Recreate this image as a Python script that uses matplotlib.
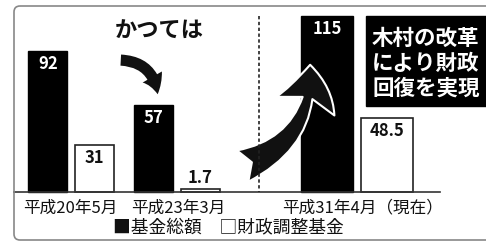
import matplotlib
matplotlib.use("Agg")
import matplotlib.pyplot as plt
from matplotlib.patches import FancyBboxPatch, FancyArrowPatch, Rectangle

plt.rcParams['font.family'] = ['Noto Sans CJK JP', 'DejaVu Sans']

# ---- data ----
categories = ["平成20年5月", "平成23年3月", "平成31年4月（現在）"]
fund_total = [92, 57, 115]          # 基金総額
fiscal_adj = [31, 1.7, 48.5]        # 財政調整基金
value_text_total = ["92", "57", "115"]
value_text_adj = ["31", "1.7", "48.5"]
legend_total = "基金総額"
legend_adj = "財政調整基金"
headline = "かつては"
box_lines = ["木村の改革", "により財政", "回復を実現"]

W, H = 486, 244
fig = plt.figure(figsize=(W / 100, H / 100), dpi=100)

# layout (pixel units)
base_y = 192
top_y = 16
group_centers = [71, 177, 357]
bar_widths = [39, 39, 52]
gap = 7.5

ax = fig.add_axes([0, (H - base_y) / H, 1, (base_y - top_y) / H])
ax.set_xlim(0, W)
ax.set_ylim(0, max(fund_total))
ax.axis('off')

for i, gc in enumerate(group_centers):
    w = bar_widths[i]
    off = w / 2 + gap / 2
    xb = gc - off
    xw = gc + off
    ax.bar(xb, fund_total[i], width=w, color='black', edgecolor='black', lw=1, clip_on=False)
    ax.bar(xw, fiscal_adj[i], width=w, color='white', edgecolor='#222222', lw=1.2, clip_on=False)
    ax.annotate(value_text_total[i], (xb, fund_total[i]), xytext=(0, -3), textcoords='offset points',
                ha='center', va='top', color='white', fontsize=12, fontweight='bold')
    if fiscal_adj[i] > 10:
        ax.annotate(value_text_adj[i], (xw, fiscal_adj[i]), xytext=(0, -3), textcoords='offset points',
                    ha='center', va='top', color='#111111', fontsize=12, fontweight='bold')
    else:
        ax.annotate(value_text_adj[i], (xw, fiscal_adj[i]), xytext=(0, 2), textcoords='offset points',
                    ha='center', va='bottom', color='#111111', fontsize=12, fontweight='bold')

# baseline
ax.plot([14, 440], [0, 0], color='#333333', lw=1.2, clip_on=False)

# overlay axes in pixel coords
ov = fig.add_axes([0, 0, 1, 1])
ov.set_xlim(0, W)
ov.set_ylim(H, 0)
ov.axis('off')
ov.patch.set_alpha(0)

# rounded border
ov.add_patch(FancyBboxPatch((14, 6), 490, 234, boxstyle="round,pad=0,rounding_size=6",
                            fill=False, ec='#888888', lw=1.2, clip_on=False))

# dashed divider
ov.plot([259, 259], [16, 192], color='#222222', lw=1.2, ls=(0, (2, 1.5)))

# category labels
lab_x = [70, 178, 363]
for x, t in zip(lab_x, categories):
    ov.text(x, 208, t, ha='center', va='center', fontsize=12, color='#111111')

# legend
ov.text(113, 228, "■" + legend_total + "　□" + legend_adj, ha='left', va='center',
        fontsize=12.8, color='#111111')

# headline
ov.text(159, 31, headline, ha='center', va='center', fontsize=16, fontweight='bold', color='#111111')

# small curved arrow (down)
ov.add_patch(FancyArrowPatch((118, 60), (158, 97), connectionstyle="arc3,rad=-0.45",
                             arrowstyle="simple,head_width=16,head_length=13,tail_width=8",
                             color='#111111', lw=0, mutation_scale=1))

# big curved arrow (up)
ov.add_patch(FancyArrowPatch((240, 167), (310, 62), connectionstyle="arc3,rad=0.38",
                             arrowstyle="fancy,head_width=44,head_length=30,tail_width=24",
                             fc='#111111', ec='white', lw=1.5, mutation_scale=1))

# black callout box
ov.add_patch(Rectangle((366, 16), 130, 90, color='black', clip_on=False))
for j, line in enumerate(box_lines):
    ov.text(372, 38 + j * 25, line, ha='left', va='center', fontsize=15.5, fontweight='bold', color='white')

fig.savefig("out.png", dpi=100)
